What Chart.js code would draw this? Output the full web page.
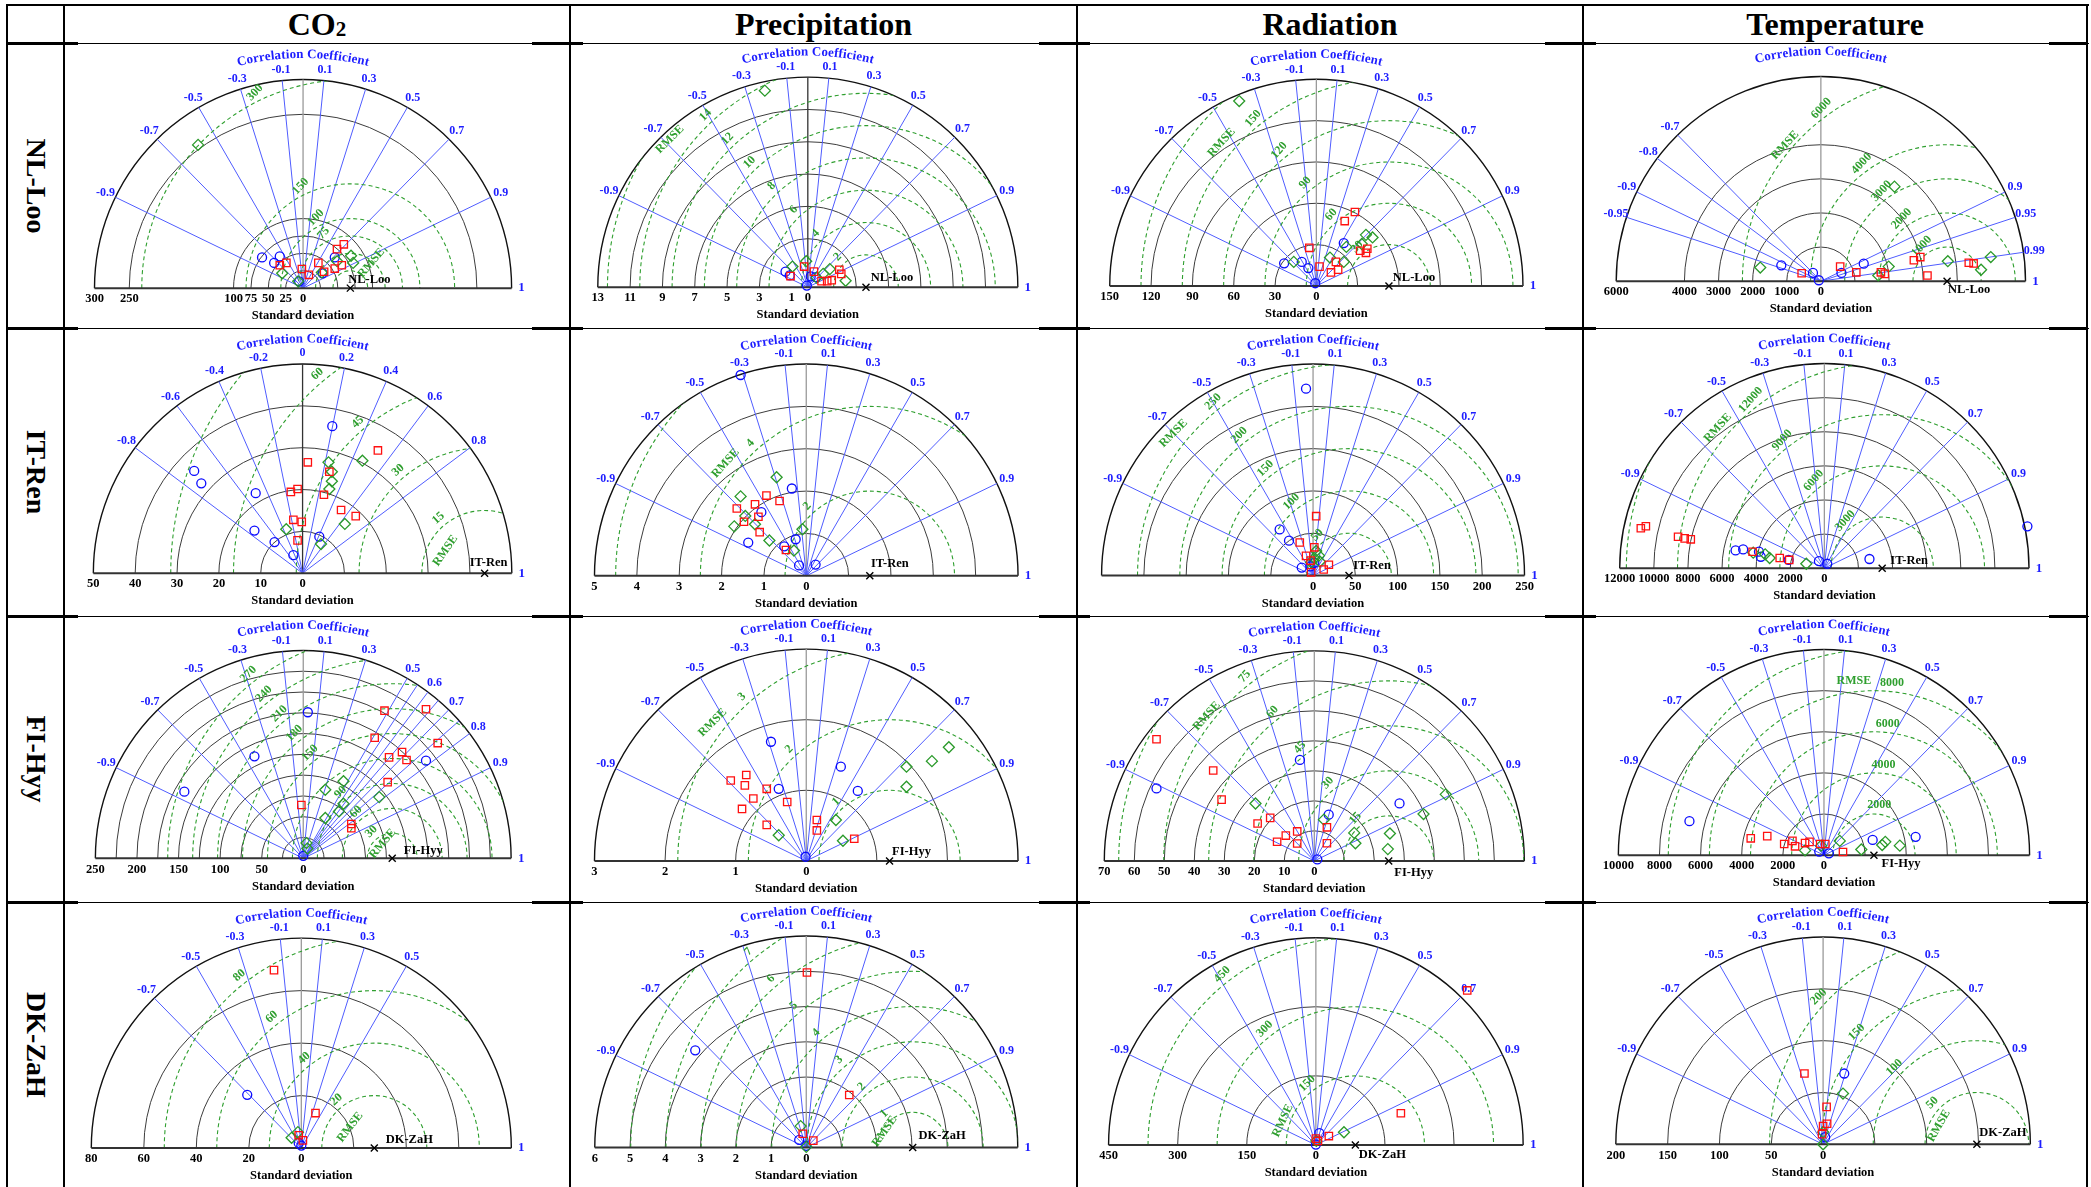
<!DOCTYPE html>
<html>
<head>
<meta charset="utf-8">
<script src="https://cdn.jsdelivr.net/npm/chart.js@4.4.0/dist/chart.umd.min.js"></script>
<style>
  html, body { margin: 0; padding: 0; background: #fff; }
  body { width: 2091px; height: 1187px; position: relative; overflow: hidden;
         font-family: "Liberation Serif", "Times New Roman", serif; }
  .ln { position: absolute; background: #000; }
  .hd { position: absolute; top: 5px; height: 38px; line-height: 38px; text-align: center;
        font-weight: bold; font-size: 32px; color: #000; }
  .rl { position: absolute; font-weight: bold; font-size: 28px; white-space: nowrap;
        transform: translate(-50%, -50%) rotate(90deg); }
  canvas { position: absolute; background: #fff; }
</style>
</head>
<body>
<script>
// column / row titles
const varNames = ['CO2', 'Precipitation', 'Radiation', 'Temperature'];
const siteNames = ['NL-Loo', 'IT-Ren', 'FI-Hyy', 'DK-ZaH'];

// correlation ticks (labelled) and extra unlabelled rays
const corrStd = [-0.9, -0.7, -0.5, -0.3, -0.1, 0.1, 0.3, 0.5, 0.7, 0.9];
const corrLooTem = [-0.95, -0.9, -0.8, -0.7, 0.9, 0.95, 0.99];
const corrRenCo2 = [-0.8, -0.6, -0.4, -0.2, 0, 0.2, 0.4, 0.6, 0.8];
const corrHyyCo2 = [-0.9, -0.7, -0.5, -0.3, -0.1, 0.1, 0.3, 0.5, 0.6, 0.7, 0.8, 0.9];
const raysHyyCo2 = [0.55, 0.65, 0.75];
const corrZahCo2 = [-0.7, -0.5, -0.3, -0.1, 0.1, 0.3, 0.5];

// observed (reference) standard deviation: CO2, precipitation, radiation, temperature
const refNlLoo = [68, 3.6, 52.7, 3700];
const refItRen = [43.5, 1.5, 42.5, 3390];
const refFiHyy = [107, 1.18, 24.8, 2430];
const refDkZaH = [27.8, 3.02, 85.7, 148.4];

// std-dev arcs, std-dev tick labels, RMSE arcs, RMSE labels
const looCo2Arcs = [25, 50, 75, 100, 250, 300];
const looCo2Ticks = [0, 25, 50, 75, 100, 250, 300];
const looCo2Rmse = [25, 50, 75, 100, 150, 300];
const looCo2RmseLbl = [75, 100, 150, 300];
const looPreArcs = [3, 5, 7, 9, 11, 13];
const looPreTicks = [0, 1, 3, 5, 7, 9, 11, 13];
const looPreRmse = [2, 4, 6, 8, 10, 12, 14, 16];
const looPreRmseLbl = [2, 4, 6, 8, 10, 12, 14];
const looRadArcs = [30, 60, 90, 120, 150];
const looRadTicks = [0, 30, 60, 90, 120, 150];
const looRadRmse = [30, 60, 90, 120, 150, 180];
const looRadRmseLbl = [30, 60, 90, 120, 150];
const looTemArcs = [1000, 2000, 3000, 4000, 6000];
const looTemTicks = [0, 1000, 2000, 3000, 4000, 6000];
const looTemRmse = [1000, 2000, 3000, 4000, 6000];
const looTemRmseLbl = [1000, 2000, 3000, 4000, 6000];

const renCo2Arcs = [10, 20, 30, 40, 50];
const renCo2Ticks = [0, 10, 20, 30, 40, 50];
const renCo2Rmse = [15, 30, 45, 60, 75];
const renCo2RmseLbl = [15, 30, 45, 60];
const renPreArcs = [1, 2, 3, 4, 5];
const renPreTicks = [0, 1, 2, 3, 4, 5];
const renPreRmse = [2, 4, 6];
const renPreRmseLbl = [2, 4];
const renRadArcs = [50, 100, 150, 200, 250];
const renRadTicks = [0, 50, 100, 150, 200, 250];
const renRadRmse = [50, 100, 150, 200, 250];
const renRadRmseLbl = [50, 100, 150, 200, 250];
const renTemArcs = [2000, 4000, 6000, 8000, 10000, 12000];
const renTemTicks = [0, 2000, 4000, 6000, 8000, 10000, 12000];
const renTemRmse = [3000, 6000, 9000, 12000, 15000];
const renTemRmseLbl = [3000, 6000, 9000, 12000];

const hyyCo2Arcs = [25, 50, 75, 100, 125, 150, 175, 200, 225, 250];
const hyyCo2Ticks = [0, 50, 100, 150, 200, 250];
const hyyCo2Rmse = [30, 60, 90, 120, 150, 180, 210, 240, 270];
const hyyCo2RmseLbl = [30, 60, 90, 150, 180, 210, 240, 270];
const hyyPreArcs = [1, 2, 3];
const hyyPreTicks = [0, 1, 2, 3];
const hyyPreRmse = [1, 2, 3];
const hyyPreRmseLbl = [1, 2, 3];
const hyyRadArcs = [10, 20, 30, 40, 50, 60, 70];
const hyyRadTicks = [0, 10, 20, 30, 40, 50, 60, 70];
const hyyRadRmse = [15, 30, 45, 60, 75, 90];
const hyyRadRmseLbl = [15, 30, 45, 60, 75];
const hyyTemArcs = [2000, 4000, 6000, 8000, 10000];
const hyyTemTicks = [0, 2000, 4000, 6000, 8000, 10000];
const hyyTemRmse = [2000, 4000, 6000, 8000, 10000];
const hyyTemRmseLbl = [2000, 4000, 6000, 8000];

const zahCo2Arcs = [20, 40, 60, 80];
const zahCo2Ticks = [0, 20, 40, 60, 80];
const zahCo2Rmse = [20, 40, 60, 80];
const zahCo2RmseLbl = [20, 40, 60, 80];
const zahPreArcs = [1, 2, 3, 4, 5, 6];
const zahPreTicks = [0, 1, 2, 3, 4, 5, 6];
const zahPreRmse = [1, 2, 3, 4, 5, 6, 7, 8];
const zahPreRmseLbl = [1, 2, 3, 4, 5, 6, 7];
const zahRadArcs = [150, 300, 450];
const zahRadTicks = [0, 150, 300, 450];
const zahRadRmse = [150, 300, 450];
const zahRadRmseLbl = [150, 300, 450];
const zahTemArcs = [50, 100, 150, 200];
const zahTemTicks = [0, 50, 100, 150, 200];
const zahTemRmse = [50, 100, 150, 200];
const zahTemRmseLbl = [50, 100, 150, 200];

// model points as [std*R, std*sqrt(1-R^2)]; Sq = red squares, Dm = green diamonds, Ci = blue circles
const looCo2Sq = [[58.6,64.2],[48.8,57.2],[22,37],[-24,37],[-33.5,33.5],[-1.7,28],[8.4,19.5],[30.3,24],[45.6,28.7],[55.7,33.5]];
const looCo2Dm = [[-151,210],[-30,21.8],[27,23],[69,47.4],[72,37],[-7,10],[49,39.5]];
const looCo2Ci = [[-59,45],[-41.6,37],[-33.5,46.5],[45.6,45],[-5.6,10],[28,21.8]];
const looPreSq = [[-0.23,1.3],[0.38,0.98],[1.95,1.1],[2.07,0.84],[1.48,0.44],[0.85,0.38],[-1.07,0.7],[1.2,0.38]];
const looPreDm = [[-2.66,12.4],[-0.95,1.3],[-0.1,1.64],[1.36,1.14],[2.34,0.4],[0.95,0.84],[0.55,0.6]];
const looPreCi = [[-1.38,0.98],[-1.12,0.74],[0.18,0.68],[0.49,0.64],[-0.06,0.1]];
const looRadSq = [[28,54.7],[20.6,48],[-5.1,28.2],[2.3,14.3],[10.6,10],[15.8,12],[14.2,17.8],[31.8,26],[36,24.5],[37,27.5]];
const looRadDm = [[-56,136.8],[-16.4,17.8],[9.9,21],[19.9,17.8],[21.8,28.9],[36,37.8],[40.8,35.9],[33,31]];
const looRadCi = [[-23.4,16.7],[-10.6,17.8],[-5.8,13.2],[19.9,31.7],[-0.8,2]];
const looTemSq = [[-563,237],[566,436],[1039,265],[1760,265],[1874,218],[2727,626],[2915,720],[3125,171],[4337,550],[4478,531]];
const looTemDm = [[-1777,407],[1683,171],[1988,435],[2158,2824],[3722,597],[4697,341],[4982,720]];
const looTemCi = [[-1160,474],[-231,246],[-59,28],[603,246],[1257,522]];

const renCo2Sq = [[18,29.9],[1.25,27],[6.4,24.7],[-1.2,20.5],[-2.8,19.8],[5.1,19.1],[9.2,15.4],[12.7,13.9],[-2.2,13],[-0.2,12.5],[-1.2,8]];
const renCo2Dm = [[6.2,27],[14.3,27.4],[7,24.7],[7,22.4],[6.4,20.5],[10.1,12],[-3.9,10.7],[4.4,7.1]];
const renCo2Ci = [[7.1,35.8],[-25.9,24.9],[-24.2,21.9],[-11.2,19.5],[-11.5,10.4],[-6.7,7.6],[-2.2,4.4],[4,8.9]];
const renPreSq = [[-1.64,1.62],[-1.21,1.72],[-0.94,1.93],[-0.63,1.8],[-1.13,1.42],[-1.47,1.3],[-1.1,1.05],[-0.48,0.62]];
const renPreDm = [[-0.7,2.37],[-1.55,1.91],[-1.44,1.44],[-1.7,1.19],[-1.21,1.24],[-0.87,0.85],[-0.09,1.12],[-0.29,0.61]];
const renPreCi = [[-1.55,4.83],[-0.34,2.1],[-1.06,1.53],[-1.37,0.8],[-0.52,0.71],[-0.25,0.88],[-0.17,0.25],[0.22,0.27]];
const renRadSq = [[3.7,71.5],[-15.7,39.8],[1.5,34],[-8.3,23.7],[-3,18],[18.7,13],[12.6,7.3],[-2.3,3.9]];
const renRadDm = [[3.7,29.5],[7,24],[1.5,21],[-2.3,16],[8,17]];
const renRadCi = [[-8.3,225],[-39.5,55.5],[-28.4,42],[-13.4,9.6],[1.5,15.4],[-3,11]];
const renTemSq = [[-10762,2389],[-10466,2503],[-8578,1877],[-8191,1780],[-7833,1725],[-4209,985],[-2617,607],[-2059,493]];
const renTemDm = [[-3208,607],[-1058,265],[-3470,830],[-4170,930]];
const renTemCi = [[-5205,1062],[-4761,1119],[-3834,986],[-3726,683],[-2094,493],[-318,417],[171,265],[2645,550],[11906,2503]];

const hyyCo2Sq = [[97.7,180.9],[147.6,182.7],[85.9,147.7],[161.7,141.2],[118.8,130.2],[103.2,123.7],[124.2,120.5],[101.5,93.3],[-2.3,65.3],[57.8,42],[57.8,36.9]];
const hyyCo2Dm = [[26.5,84],[48.4,94.5],[48.4,66.9],[43,57.5],[91.4,75],[26.5,49.4],[3.9,18.7],[5,12]];
const hyyCo2Ci = [[5.5,179],[-58.7,125],[-143,81.7],[147.6,119.7],[0,3]];
const hyyPreSq = [[-0.85,1.24],[-1.07,1.16],[-0.87,1.09],[-0.56,1.04],[-0.75,0.9],[-0.27,0.85],[-0.91,0.75],[-0.56,0.52],[0.15,0.59],[0.15,0.44],[0.68,0.32]];
const hyyPreDm = [[2.02,1.64],[1.78,1.44],[1.42,1.36],[1.42,1.07],[0.42,0.59],[0.52,0.29],[-0.39,0.37]];
const hyyPreCi = [[-0.5,1.72],[0.49,1.36],[-0.39,1.04],[0.73,1.01],[-0.01,0.06]];
const hyyRadSq = [[-52.6,41.3],[-33.7,30.7],[-30.9,20.8],[-14.7,14.6],[-18.9,12.7],[-9.5,8.6],[-12.4,6.5],[-5.7,10],[-5.7,5.9],[4.2,11.4],[4.2,6]];
const hyyRadDm = [[-19.6,19.5],[3.2,14],[13.3,9.5],[13.7,6],[25.2,9.3],[36.4,15.9],[43.8,22.6],[24.5,4]];
const hyyRadCi = [[-52.6,24.6],[-4.8,34.3],[4.8,15.7],[28.4,19.5],[1,0.5]];
const hyyTemSq = [[-3561,835],[-2759,943],[-1934,552],[-1533,708],[-1406,439],[-920,599],[-703,660],[-184,552],[66,552],[925,156]];
const hyyTemDm = [[769,708],[1816,283],[2830,505],[2981,660],[3689,472],[-920,236],[-137,472]];
const hyyTemCi = [[-6542,1684],[2368,755],[4458,910],[-230,180],[240,90]];

const zahCo2Sq = [[-10.4,69.1],[5.4,13.6],[-1,5],[0.6,3]];
const zahCo2Dm = [[-1.3,6.2],[-3.7,4]];
const zahCo2Ci = [[-20.6,20.7],[-1,2],[0,1]];
const zahPreSq = [[0.02,5.06],[1.22,1.52],[-0.1,0.4],[0.2,0.2]];
const zahPreDm = [[-0.16,0.62],[0,0.02]];
const zahPreCi = [[-3.15,2.81],[-0.2,0.22],[0,0.05]];
const zahRadSq = [[328.6,341.9],[184.5,70.2],[28.2,19.7],[0,14],[4.5,9]];
const zahRadDm = [[61,28.1],[1,9]];
const zahRadCi = [[7.6,26],[0,1]];
const zahTemSq = [[-18,69.6],[3.4,36.8],[3.9,20.2],[0,18],[-1,10]];
const zahTemDm = [[19.2,49.9],[0,12],[0,0]];
const zahTemCi = [[20.4,69.6],[2,7]];

// page grid
const colLeft = [64, 570, 1077, 1583];
const colRight = [570, 1077, 1583, 2087];
const rowTop = [43, 328, 616, 902];
const rowBottom = [328, 616, 902, 1190];

// panel layout: centre (cx, cy) and radius R in page pixels, max = outer std-dev
const panels = [
  {row:0,col:0,cx:303,cy:293.3,R:215,max:300,arcs:looCo2Arcs,ticks:looCo2Ticks,corr:corrStd,ref:refNlLoo[0],rmse:looCo2Rmse,rmseLbl:looCo2RmseLbl,ang:116,rot:-47,word:[47,50],wordRot:-50,site:[19,-8],zero:'#9a9a9a',sq:looCo2Sq,dm:looCo2Dm,ci:looCo2Ci},
  {row:0,col:1,cx:807.7,cy:292.3,R:216.5,max:13,arcs:looPreArcs,ticks:looPreTicks,corr:corrStd,ref:refNlLoo[1],rmse:looPreRmse,rmseLbl:looPreRmseLbl,ang:133,rot:-45,word:[15.2,143],wordRot:-45,site:[26,-9],zero:'#333',sq:looPreSq,dm:looPreDm,ci:looPreCi},
  {row:0,col:2,cx:1316.3,cy:291,R:213,max:150,arcs:looRadArcs,ticks:looRadTicks,corr:corrStd,ref:refNlLoo[2],rmse:looRadRmse,rmseLbl:looRadRmseLbl,ang:129,rot:-48,word:[160,139.4],wordRot:-48,site:[25,-8],zero:'#9a9a9a',sq:looRadSq,dm:looRadDm,ci:looRadCi},
  {row:0,col:3,cx:1820.8,cy:286,R:211,max:6000,arcs:looTemArcs,ticks:looTemTicks,corr:corrLooTem,ref:refNlLoo[3],rmse:looTemRmse,rmseLbl:looTemRmseLbl,ang:126,rot:-47,word:[6200,140],wordRot:-47,site:[22,9],zero:'#9a9a9a',sq:looTemSq,dm:looTemDm,ci:looTemCi},

  {row:1,col:0,cx:302.5,cy:578.3,R:215.7,max:50,arcs:renCo2Arcs,ticks:renCo2Ticks,corr:corrRenCo2,ref:refItRen[0],rmse:renCo2Rmse,rmseLbl:renCo2RmseLbl,ang:130,rot:-42,word:[10.8,150],wordRot:-55,site:[4,-10],zero:'#333',sq:renCo2Sq,dm:renCo2Dm,ci:renCo2Ci},
  {row:1,col:1,cx:806.1,cy:581,R:218.3,max:5,arcs:renPreArcs,ticks:renPreTicks,corr:corrStd,ref:refItRen[1],rmse:renPreRmse,rmseLbl:renPreRmseLbl,ang:132,rot:-48,word:[4.32,142],wordRot:-48,site:[20,-12],zero:'#9a9a9a',sq:renPreSq,dm:renPreDm,ci:renPreCi},
  {row:1,col:2,cx:1312.9,cy:580.7,R:218,max:250,arcs:renRadArcs,ticks:renRadTicks,side:1,corr:corrStd,ref:refItRen[2],rmse:renRadRmse,rmseLbl:renRadRmseLbl,ang:128,rot:-45,word:[267,141],wordRot:-45,site:[23,-10],zero:'#9a9a9a',sq:renRadSq,dm:renRadDm,ci:renRadCi},
  {row:1,col:3,cx:1824.4,cy:573,R:211,max:12000,arcs:renTemArcs,ticks:renTemTicks,corr:corrStd,ref:refItRen[3],rmse:renTemRmse,rmseLbl:renTemRmseLbl,ang:128,rot:-48,word:[12670,139.5],wordRot:-48,site:[27,-7],zero:'#9a9a9a',sq:renTemSq,dm:renTemDm,ci:renTemCi},

  {row:2,col:0,cx:303.2,cy:863.3,R:214.3,max:250,arcs:hyyCo2Arcs,ticks:hyyCo2Ticks,corr:corrHyyCo2,rays:raysHyyCo2,ref:refFiHyy[0],rmse:hyyCo2Rmse,rmseLbl:hyyCo2RmseLbl,ang:128,rot:-45,word:[21,123],wordRot:-50,site:[31,-8],zero:'#9a9a9a',sq:hyyCo2Sq,dm:hyyCo2Dm,ci:hyyCo2Ci},
  {row:2,col:1,cx:806.1,cy:866,R:218.3,max:3,arcs:hyyPreArcs,ticks:hyyPreTicks,corr:corrStd,ref:refFiHyy[1],rmse:hyyPreRmse,rmseLbl:hyyPreRmseLbl,ang:132,rot:-45,word:[3.18,142],wordRot:-45,site:[22,-9],zero:'#9a9a9a',sq:hyyPreSq,dm:hyyPreDm,ci:hyyPreCi},
  {row:2,col:2,cx:1314.2,cy:866,R:216.5,max:70,arcs:hyyRadArcs,ticks:hyyRadTicks,corr:corrStd,ref:refFiHyy[2],rmse:hyyRadRmse,rmseLbl:hyyRadRmseLbl,ang:128,rot:-48,word:[77.5,141.5],wordRot:-48,site:[25,12],zero:'#9a9a9a',sq:hyyRadSq,dm:hyyRadDm,ci:hyyRadCi},
  {row:2,col:3,cx:1824,cy:860,R:212,max:10000,arcs:hyyTemArcs,ticks:hyyTemTicks,corr:corrStd,ref:refFiHyy[3],rmse:hyyTemRmse,rmseLbl:hyyTemRmseLbl,ang:84,rot:0,word:[8515,96.6],wordRot:0,site:[27,9],zero:'#9a9a9a',sq:hyyTemSq,dm:hyyTemDm,ci:hyyTemCi},

  {row:3,col:0,cx:301.2,cy:1153.3,R:216.5,max:80,arcs:zahCo2Arcs,ticks:zahCo2Ticks,corr:corrZahCo2,ref:refDkZaH[0],rmse:zahCo2Rmse,rmseLbl:zahCo2RmseLbl,ang:128,rot:-42,word:[12.2,139],wordRot:-52,site:[35,-8],zero:'#9a9a9a',sq:zahCo2Sq,dm:zahCo2Dm,ci:zahCo2Ci},
  {row:3,col:1,cx:806.1,cy:1152.7,R:218,max:6,arcs:zahPreArcs,ticks:zahPreTicks,corr:corrStd,ref:refDkZaH[1],rmse:zahPreRmse,rmseLbl:zahPreRmseLbl,ang:130,rot:-45,word:[0.92,150],wordRot:-55,site:[29.5,-12],zero:'#9a9a9a',sq:zahPreSq,dm:zahPreDm,ci:zahPreCi},
  {row:3,col:2,cx:1315.8,cy:1150,R:213.7,max:450,arcs:zahRadArcs,ticks:zahRadTicks,corr:corrStd,ref:refDkZaH[2],rmse:zahRadRmse,rmseLbl:zahRadRmseLbl,ang:128,rot:-45,word:[166,161.5],wordRot:-65,site:[27,10],zero:'#9a9a9a',sq:zahRadSq,dm:zahRadDm,ci:zahRadCi},
  {row:3,col:3,cx:1823.1,cy:1149.3,R:213.7,max:200,arcs:zahTemArcs,ticks:zahTemTicks,corr:corrStd,ref:refDkZaH[3],rmse:zahTemRmse,rmseLbl:zahTemRmseLbl,ang:137,rot:-45,word:[40.7,154],wordRot:-60,site:[26,-12],zero:'#9a9a9a',sq:zahTemSq,dm:zahTemDm,ci:zahTemCi}
];

const BLUE_RAY = '#4f5cff';
const BLUE_TXT = '#1d1dff';
const GREEN = '#2f9f2f';
const SERIF = '"Liberation Serif", "Times New Roman", serif';

function addDiv(cls, css, html) {
  const d = document.createElement('div');
  d.className = cls;
  Object.assign(d.style, css);
  if (html) d.innerHTML = html;
  document.body.appendChild(d);
  return d;
}

// table frame: thin full-width row rules, heavier stubs around each column rule
addDiv('ln', {left: '6px', top: '4px', width: '2083px', height: '2px'});
addDiv('ln', {left: '6px', top: '4px', width: '2px', height: '1190px'});
addDiv('ln', {left: '2086px', top: '4px', width: '2px', height: '1190px'});
colLeft.forEach(x => addDiv('ln', {left: (x - 1) + 'px', top: '4px', width: '2px', height: '1190px'}));
rowTop.forEach(y => {
  addDiv('ln', {left: '6px', top: y + 'px', width: '2083px', height: '1px'});
  addDiv('ln', {left: '6px', top: (y - 1) + 'px', width: (colLeft[0] + 14 - 6) + 'px', height: '3px'});
  for (let c = 0; c < 4; c++) {
    const x0 = colRight[c] - 38;
    const x1 = c < 3 ? colLeft[c + 1] + 13 : 2088;
    addDiv('ln', {left: x0 + 'px', top: (y - 1) + 'px', width: (x1 - x0) + 'px', height: '3px'});
  }
});

// headers
varNames.forEach((name, i) => {
  const html = name === 'CO2' ? 'CO<span style="font-size:21px;vertical-align:-1px">2</span>' : name;
  addDiv('hd', {left: colLeft[i] + 'px', width: (colRight[i] - colLeft[i]) + 'px'}, html);
});
siteNames.forEach((name, i) => {
  addDiv('rl', {left: '36px', top: ((rowTop[i] + Math.min(rowBottom[i], 1187)) / 2) + 'px'}, name);
});

const panelOf = new WeakMap();

function arcText(ctx, text, cx, yTop, rr, targetW) {
  const chars = [...text];
  const widths = chars.map(c => ctx.measureText(c).width);
  const natural = widths.reduce((a, b) => a + b, 0);
  const gap = (targetW - natural) / (chars.length - 1);
  let s = -targetW / 2;
  chars.forEach((c, i) => {
    const a = (s + widths[i] / 2) / rr;
    ctx.save();
    ctx.translate(cx + rr * Math.sin(a), yTop + rr - rr * Math.cos(a));
    ctx.rotate(a);
    ctx.fillText(c, 0, 0);
    ctx.restore();
    s += widths[i] + gap;
  });
}

// Taylor diagram frame: std-dev arcs, correlation rays, centred-RMSE arcs and all labels
const taylorGrid = {
  id: 'taylorGrid',
  beforeDatasetsDraw(chart) {
    const p = panelOf.get(chart.canvas);
    if (!p) return;
    const ctx = chart.ctx;
    const xs = chart.scales.x, ys = chart.scales.y;
    const ox = xs.getPixelForValue(0), oy = ys.getPixelForValue(0);
    const px = v => xs.getPixelForValue(v) - ox;
    const R = px(p.max);
    const rx = xs.getPixelForValue(p.ref);

    ctx.save();
    ctx.setLineDash([]);

    // std-dev arcs
    p.arcs.forEach(s => {
      ctx.beginPath();
      ctx.arc(ox, oy, px(s), Math.PI, 2 * Math.PI);
      ctx.strokeStyle = s === p.max ? '#111' : '#3c3c3c';
      ctx.lineWidth = s === p.max ? 1.4 : 1;
      ctx.stroke();
    });

    // zero-correlation line
    ctx.beginPath();
    ctx.moveTo(ox, oy);
    ctx.lineTo(ox, oy - R);
    ctx.strokeStyle = p.zero;
    ctx.lineWidth = 1.3;
    ctx.stroke();

    // correlation rays
    ctx.strokeStyle = BLUE_RAY;
    ctx.lineWidth = 1;
    p.corr.concat(p.rays || []).forEach(r => {
      if (r === 0) return;
      const a = Math.acos(r);
      ctx.beginPath();
      ctx.moveTo(ox, oy);
      ctx.lineTo(ox + R * Math.cos(a), oy - R * Math.sin(a));
      ctx.stroke();
    });

    // centred RMSE arcs around the reference point, kept inside the half disc
    ctx.save();
    ctx.beginPath();
    ctx.arc(ox, oy, R, Math.PI, 2 * Math.PI);
    ctx.closePath();
    ctx.clip();
    ctx.setLineDash([4, 3]);
    ctx.strokeStyle = GREEN;
    ctx.lineWidth = 1.1;
    p.rmse.forEach(e => {
      ctx.beginPath();
      ctx.arc(rx, oy, px(e), Math.PI, 2 * Math.PI);
      ctx.stroke();
    });
    ctx.restore();

    // base line
    ctx.beginPath();
    ctx.moveTo(ox - R, oy);
    ctx.lineTo(ox + R, oy);
    ctx.strokeStyle = '#333';
    ctx.lineWidth = 2;
    ctx.stroke();

    ctx.textAlign = 'center';
    ctx.textBaseline = 'middle';

    // correlation labels
    ctx.fillStyle = BLUE_TXT;
    ctx.font = 'bold 12px ' + SERIF;
    p.corr.forEach(r => {
      const a = Math.acos(r);
      ctx.fillText(String(r), ox + (R + 11) * Math.cos(a), oy - (R + 11) * Math.sin(a));
    });
    ctx.font = 'bold 13px ' + SERIF;
    ctx.fillText('1', ox + R + 10, oy);
    arcText(ctx, 'Correlation Coefficient', ox, oy - R - 25, 270, 133);

    // RMSE labels
    ctx.fillStyle = GREEN;
    ctx.font = 'bold 12px ' + SERIF;
    const ta = p.ang * Math.PI / 180;
    p.rmseLbl.forEach(e => {
      const d = px(e) + 9;
      ctx.save();
      ctx.translate(rx + d * Math.cos(ta), oy - d * Math.sin(ta));
      ctx.rotate(p.rot * Math.PI / 180);
      ctx.fillText(String(e), 0, 0);
      ctx.restore();
    });
    if (p.word) {
      const wa = p.word[1] * Math.PI / 180, d = px(p.word[0]);
      ctx.save();
      ctx.translate(rx + d * Math.cos(wa), oy - d * Math.sin(wa));
      ctx.rotate(p.wordRot * Math.PI / 180);
      ctx.fillText('RMSE', 0, 0);
      ctx.restore();
    }

    // std-dev tick labels and axis title
    ctx.fillStyle = '#000';
    ctx.font = 'bold 12.5px ' + SERIF;
    const dir = p.side ? 1 : -1;
    p.ticks.forEach(v => ctx.fillText(String(v), ox + dir * px(v), oy + 11));
    ctx.fillText('Standard deviation', ox, oy + 28);

    // reference point
    ctx.strokeStyle = '#000';
    ctx.lineWidth = 1.4;
    ctx.beginPath();
    ctx.moveTo(rx - 3.5, oy - 3.5); ctx.lineTo(rx + 3.5, oy + 3.5);
    ctx.moveTo(rx + 3.5, oy - 3.5); ctx.lineTo(rx - 3.5, oy + 3.5);
    ctx.stroke();
    ctx.font = 'bold 12.5px ' + SERIF;
    ctx.fillText(siteNames[p.row], rx + p.site[0], oy + p.site[1]);

    ctx.restore();
  }
};

function points(arr) {
  return arr.map(([x, y]) => ({x, y}));
}

panels.forEach(p => {
  const left = colLeft[p.col] + 14;
  const right = colRight[p.col] - 38;
  const top = rowTop[p.row] + 2;
  const bottom = p.row === 3 ? 1187 : rowBottom[p.row] - 1;
  const W = right - left, H = bottom - top;
  const canvas = document.createElement('canvas');
  canvas.width = W;
  canvas.height = H;
  canvas.style.left = left + 'px';
  canvas.style.top = top + 'px';
  canvas.style.width = W + 'px';
  canvas.style.height = H + 'px';
  document.body.appendChild(canvas);
  panelOf.set(canvas, p);

  const k = p.max / p.R;           // data units per pixel, same on both axes
  const ox = p.cx - left, oy = p.cy - top;

  new Chart(canvas, {
    type: 'scatter',
    data: {
      datasets: [
        {data: points(p.sq), pointStyle: 'rect', pointRadius: 5.2, borderColor: '#ff1010', backgroundColor: 'rgba(0,0,0,0)', borderWidth: 1.3, clip: false},
        {data: points(p.dm), pointStyle: 'rectRot', pointRadius: 5.5, borderColor: '#2a9a2a', backgroundColor: 'rgba(0,0,0,0)', borderWidth: 1.3, clip: false},
        {data: points(p.ci), pointStyle: 'circle', pointRadius: 4.5, borderColor: '#0a0aff', backgroundColor: 'rgba(0,0,0,0)', borderWidth: 1.3, clip: false}
      ]
    },
    options: {
      responsive: false,
      animation: false,
      devicePixelRatio: 1,
      events: [],
      layout: {padding: 0},
      plugins: {legend: {display: false}, tooltip: {enabled: false}},
      scales: {
        x: {type: 'linear', display: false, min: -ox * k, max: (W - ox) * k},
        y: {type: 'linear', display: false, min: -(H - oy) * k, max: oy * k}
      }
    },
    plugins: [taylorGrid]
  });
});
</script>
</body>
</html>
